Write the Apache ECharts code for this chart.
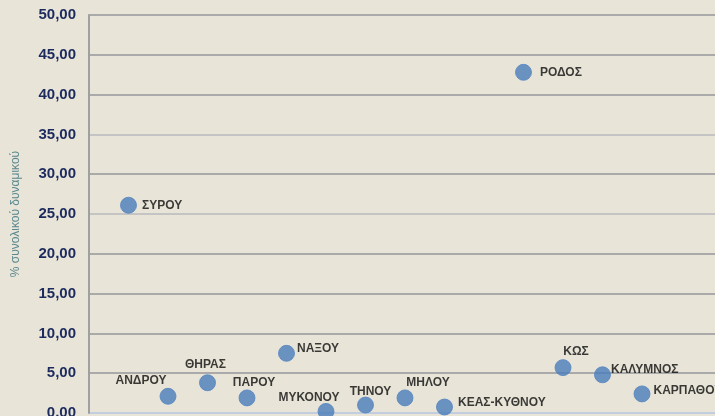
<!DOCTYPE html>
<html>
<head>
<meta charset="utf-8">
<script src="https://cdn.jsdelivr.net/npm/echarts@6/dist/echarts.min.js"></script>
<style>
html,body{margin:0;padding:0;background:#e8e5d8;}
#c{width:715px;height:416px;}
</style>
</head>
<body>
<div id="c"></div>
<script>
// Data
const names = ['ΣΥΡΟΥ','ΑΝΔΡΟΥ','ΘΗΡΑΣ','ΠΑΡΟΥ','ΝΑΞΟΥ','ΜΥΚΟΝΟΥ','ΤΗΝΟΥ','ΜΗΛΟΥ','ΚΕΑΣ-ΚΥΘΝΟΥ','ΡΟΔΟΣ','ΚΩΣ','ΚΑΛΥΜΝΟΣ','ΚΑΡΠΑΘΟΥ'];
const xIndex = [1,2,3,4,5,6,7,8,9,11,12,13,14];
const values = [26.1,2.1,3.8,1.9,7.5,0.2,1.0,1.9,0.75,42.8,5.7,4.8,2.4];
const yTicks = [0,5,10,15,20,25,30,35,40,45,50];
const yAxisName = '% συνολικού δυναμικού';

// Label placement (style only)
const labelStyle = {
  'ΣΥΡΟΥ': {position:'right', offset:[0,0]},
  'ΑΝΔΡΟΥ': {position:'top', offset:[-27,4]},
  'ΘΗΡΑΣ': {position:'top', offset:[-2,1]},
  'ΠΑΡΟΥ': {position:'top', offset:[7,4]},
  'ΝΑΞΟΥ': {position:'right', offset:[-3,-5]},
  'ΜΥΚΟΝΟΥ': {position:'top', offset:[-17,6]},
  'ΤΗΝΟΥ': {position:'top', offset:[5,6]},
  'ΜΗΛΟΥ': {position:'top', offset:[23,4]},
  'ΚΕΑΣ-ΚΥΘΝΟΥ': {position:'right', offset:[0,-4]},
  'ΡΟΔΟΣ': {position:'right', offset:[3,0]},
  'ΚΩΣ': {position:'top', offset:[13,4]},
  'ΚΑΛΥΜΝΟΣ': {position:'right', offset:[-5,-5]},
  'ΚΑΡΠΑΘΟΥ': {position:'right', offset:[-2,-3]}
};

const seriesData = names.map((n,i)=>({
  name:n,
  value:[xIndex[i], values[i]],
  label: Object.assign({show:true, formatter:n}, labelStyle[n])
}));

const chart = echarts.init(document.getElementById('c'), null, {renderer:'canvas'});
chart.setOption({
  backgroundColor:'#e8e5d8',
  animation:false,
  grid:{left:89, right:-6, top:15, bottom:3, containLabel:false, outerBoundsMode:'none'},
  xAxis:{
    type:'value', min:0, max:16, interval:1,
    axisLine:{show:false}, axisTick:{show:false}, axisLabel:{show:false},
    splitLine:{show:false}
  },
  yAxis:{
    type:'value', min:yTicks[0], max:yTicks[yTicks.length-1], interval:5,
    name:yAxisName, nameLocation:'middle', nameRotate:90, nameGap:67,
    nameTextStyle:{color:'#5a8790', fontSize:12, fontFamily:'Liberation Sans'},
    axisLine:{show:true, lineStyle:{color:'#a0a0a0', width:2}},
    axisTick:{show:false},
    axisLabel:{
      margin:13, color:'#1c2a5e', fontSize:15, fontWeight:'bold', fontFamily:'Liberation Sans',
      formatter:v=>v.toFixed(2).replace('.',',')
    },
    splitLine:{show:true, lineStyle:{color:['#c3cde0','#aaaaaa','#aaaaaa','#aaaaaa','#aaaaaa','#c4c4c4','#aaaaaa','#c4c4c4','#aaaaaa','#aaaaaa','#aaaaaa'], width:2}}
  },
  series:[{
    type:'scatter',
    symbol:'circle',
    symbolSize:16,
    itemStyle:{color:'#4a7dbb', borderColor:'#5584bf', borderWidth:1},
    label:{color:'#0d0d0d', fontSize:12, fontWeight:'bold', fontFamily:'Liberation Sans', distance:5},
    data:seriesData
  }]
});
</script>
</body>
</html>
